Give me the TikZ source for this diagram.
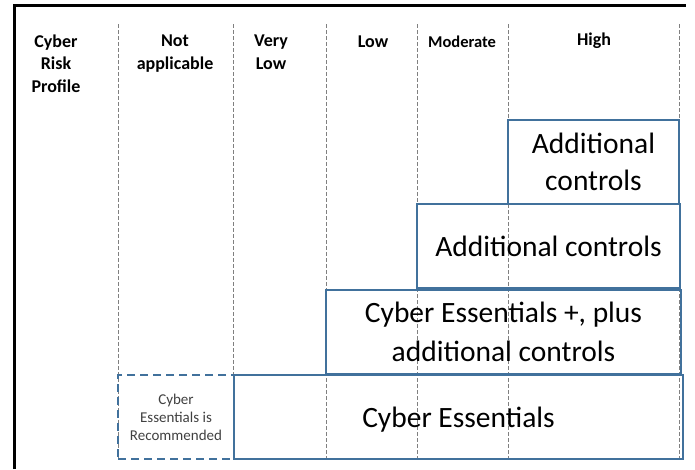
\documentclass[tikz,border=0pt]{standalone}
\usepackage{fontspec}
\setmainfont{Carlito}
\definecolor{boxblue}{HTML}{41719C}
\tikzset{
  riskbox/.style={draw=boxblue, line width=2pt, minimum height=84pt, inner sep=0pt,
    align=center, font=\fontsize{29.5}{37}\selectfont},
  colhead/.style={anchor=base, align=center, font=\bfseries\fontsize{18}{22.5}\selectfont},
  colline/.style={gray, dash pattern=on 4pt off 2pt, line width=0.8pt},
}
\begin{document}
\begin{tikzpicture}[x=1pt, y=-1pt]
  \useasboundingbox (0,0) rectangle (695,469);
  % frame
  \draw[line width=3pt] (14.5,469) -- (14.5,5.5) -- (686,5.5);
  % column separators
  \foreach \xc in {118,233,326,417,508,679}
    \draw[colline] (\xc,24) -- (\xc,459);
  % column headings (base = last line)
  \node[colhead] (profile) at (56,92) {Cyber\\Risk\\Profile};
  \node[colhead] (notapp) at (175,69) {Not\\applicable};
  \node[colhead] (verylow) at (271,69) {Very\\Low};
  \node[colhead] (low) at (373,47) {Low};
  \node[colhead, font=\bfseries\fontsize{16.5}{20}\selectfont] (moderate) at (462,47) {Moderate};
  \node[colhead] (high) at (594,45) {High};
  % control levels
  \node[riskbox, minimum width=171pt] (addhigh) at (593.5,162) {Additional\\controls};
  \node[riskbox, minimum width=263pt] (addmod) at (548.5,246) {Additional controls};
  \node[riskbox, minimum width=355pt, font=\fontsize{29.5}{39}\selectfont] (ceplus) at (503.5,332)
    {Cyber Essentials +, plus\\additional controls};
  \node[riskbox, minimum width=449pt, text depth=0pt] (ce) at (458.5,417) {Cyber Essentials};
  \node[riskbox, dash pattern=on 8pt off 5pt, minimum width=116pt, text=black!75,
    font=\fontsize{15}{18}\selectfont] (cerec) at (176,417) {Cyber\\Essentials is\\Recommended};
\end{tikzpicture}
\end{document}
